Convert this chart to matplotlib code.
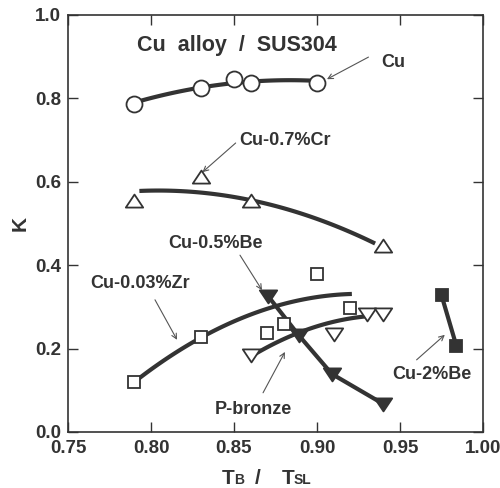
import numpy as np
import matplotlib
matplotlib.use("Agg")
import matplotlib.pyplot as plt
from matplotlib.path import Path

plt.rcParams['font.family'] = ['Liberation Sans', 'DejaVu Sans']
plt.rcParams['font.weight'] = 'bold'

INK = '#333333'

# measured data points (T_B / T_SL, K)
cu_x = [0.79, 0.83, 0.85, 0.86, 0.90]
cu_y = [0.787, 0.825, 0.846, 0.837, 0.838]

cr_x = [0.79, 0.83, 0.86, 0.94]
cr_y = [0.554, 0.612, 0.555, 0.445]

zr_x = [0.79, 0.83, 0.87, 0.88, 0.90, 0.92]
zr_y = [0.12, 0.228, 0.238, 0.259, 0.38, 0.297]

be05_x = [0.8705, 0.889, 0.909, 0.94]
be05_y = [0.326, 0.232, 0.139, 0.067]

pb_x = [0.86, 0.91, 0.93, 0.94]
pb_y = [0.185, 0.236, 0.283, 0.283]

be2_x = [0.975, 0.984]
be2_y = [0.328, 0.206]

# trend curves: start / middle / end anchors of each fitted line
cu_fit = ([0.79, 0.83, 0.90], [0.79, 0.826, 0.842])
cr_fit = ([0.793, 0.86, 0.935], [0.578, 0.556, 0.452])
zr_fit = ([0.79, 0.83, 0.921], [0.12, 0.226, 0.331])
pb_fit = ([0.861, 0.889, 0.929], [0.183, 0.238, 0.277])

x_ticks = [0.75, 0.80, 0.85, 0.90, 0.95, 1.00]
y_ticks = [0.0, 0.2, 0.4, 0.6, 0.8, 1.0]

fig = plt.figure(figsize=(5.0, 4.88), dpi=100)
ax = fig.add_axes([0.136, 0.1148, 0.830, 0.8545])


def fit_curve(anchors, n=60):
    xs, ys = anchors
    c = np.polyfit(xs, ys, 2)
    xx = np.linspace(xs[0], xs[-1], n)
    return xx, np.polyval(c, xx)


LW = 3.0
for anchors in (cu_fit, cr_fit, zr_fit, pb_fit):
    xx, yy = fit_curve(anchors)
    ax.plot(xx, yy, color=INK, lw=LW, solid_capstyle='butt', zorder=2)
ax.plot(be05_x, be05_y, color=INK, lw=LW, zorder=2)
ax.plot(be2_x, be2_y, color=INK, lw=LW, zorder=2)

# flattened triangle markers
tri_up = Path([(-1, -0.7), (1, -0.7), (0, 0.8), (-1, -0.7)],
              [Path.MOVETO, Path.LINETO, Path.LINETO, Path.CLOSEPOLY])
tri_dn = Path([(-1, 0.7), (1, 0.7), (0, -0.8), (-1, 0.7)],
              [Path.MOVETO, Path.LINETO, Path.LINETO, Path.CLOSEPOLY])

mk = dict(linestyle='none', markeredgecolor=INK, markeredgewidth=1.3, zorder=3)
ax.plot(cu_x, cu_y, marker='o', ms=11.5, markerfacecolor='white', **mk)
ax.plot(cr_x, cr_y, marker=tri_up, ms=12.5, markerfacecolor='white', **mk)
ax.plot(zr_x, zr_y, marker='s', ms=9.0, markerfacecolor='white', **mk)
ax.plot(pb_x, pb_y, marker=tri_dn, ms=12.5, markerfacecolor='white', **mk)
ax.plot(be05_x, be05_y, marker=tri_dn, ms=12.5, markerfacecolor=INK, **mk)
ax.plot(be2_x, be2_y, marker='s', ms=9.0, markerfacecolor=INK, **mk)

# labels with pointer arrows
FS = 13
arrow = dict(arrowstyle='->', color='#555555', lw=0.8, shrinkA=0, shrinkB=0,
             mutation_scale=9)
ax.text(0.852, 0.928, 'Cu  alloy  /  SUS304', ha='center', va='center',
        fontsize=15.5, fontweight='bold', color=INK)

labels = [
    ('Cu', (0.946, 0.887), (0.931, 0.899), (0.906, 0.846)),
    ('Cu-0.7%Cr', (0.881, 0.700), (0.851, 0.693), (0.831, 0.623)),
    ('Cu-0.5%Be', (0.8386, 0.451), (0.8536, 0.424), (0.8669, 0.340)),
    ('Cu-0.03%Zr', (0.7934, 0.357), (0.8024, 0.317), (0.8157, 0.221)),
    ('P-bronze', (0.8615, 0.055), (0.8675, 0.094), (0.8807, 0.192)),
    ('Cu-2%Be', (0.9693, 0.137), (0.960, 0.173), (0.977, 0.233)),
]
for txt, pos, a0, a1 in labels:
    ax.text(pos[0], pos[1], txt, ha='center', va='center', fontsize=FS,
            fontweight='bold', color=INK)
    ax.annotate('', xy=a1, xytext=a0, arrowprops=arrow, zorder=4)

ax.set_xlim(0.75, 1.00)
ax.set_ylim(0.0, 1.0)
ax.set_xticks(x_ticks)
ax.set_yticks(y_ticks)
ax.set_xticklabels([f'{v:.2f}' for v in x_ticks])
ax.set_yticklabels([f'{v:.1f}' for v in y_ticks])
ax.tick_params(direction='in', length=7, width=1.0, color=INK,
               top=True, right=True, labelsize=13.5, labelcolor=INK)
ax.tick_params(axis='x', pad=5.5)
ax.tick_params(axis='y', pad=5)
for lab in ax.get_xticklabels() + ax.get_yticklabels():
    lab.set_fontweight('bold')
for s in ax.spines.values():
    s.set_color(INK)
    s.set_linewidth(1.2)

# axis titles: T_B / T_SL with small-cap subscripts on the baseline
xt = ax.get_xaxis_transform()
yb = -0.125
ax.text(0.8428, yb, 'T', transform=xt, fontsize=15, fontweight='bold',
        color=INK, ha='left', va='baseline')
ax.text(0.8500, yb, 'B', transform=xt, fontsize=10, fontweight='bold',
        color=INK, ha='left', va='baseline')
ax.text(0.8645, yb, '/', transform=xt, fontsize=15, fontweight='bold',
        color=INK, ha='center', va='baseline')
ax.text(0.8789, yb, 'T', transform=xt, fontsize=15, fontweight='bold',
        color=INK, ha='left', va='baseline')
ax.text(0.8861, yb, 'SL', transform=xt, fontsize=10, fontweight='bold',
        color=INK, ha='left', va='baseline')

ax.set_ylabel('K', fontsize=15, fontweight='bold', color=INK, labelpad=4)

fig.savefig('out.png', dpi=100)
